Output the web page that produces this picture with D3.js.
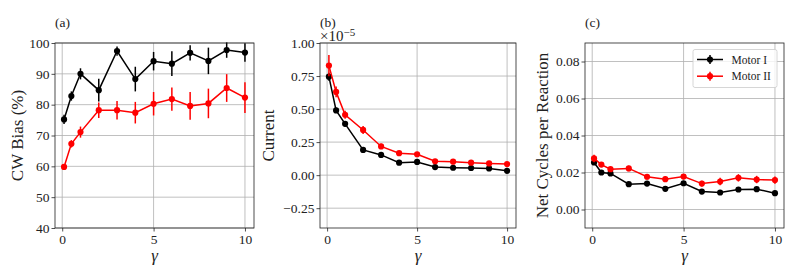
<!DOCTYPE html>
<html>
<head>
<meta charset="utf-8">
<script src="https://cdn.jsdelivr.net/npm/d3@7"></script>
<style>
  body { margin: 0; background: #fff; }
</style>
</head>
<body>
<div id="chart"></div>
<script>
// gamma values shared by every panel
var gammas = [0.1, 0.5, 1, 2, 3, 4, 5, 6, 7, 8, 9, 10];

// (a) CW bias, %
var biasMotor1 = [75.2, 82.8, 90.0, 84.7, 97.4, 88.3, 94.1, 93.3, 96.8, 94.2, 97.7, 96.9];
var biasErr1   = [1.5, 1.5, 1.8, 3.7, 1.5, 4.0, 3.0, 4.0, 2.5, 4.3, 2.5, 3.0];
var biasMotor2 = [59.8, 67.3, 71.1, 78.2, 78.2, 77.4, 80.3, 81.8, 79.6, 80.4, 85.4, 82.3];
var biasErr2   = [0.7, 1.2, 1.8, 2.5, 3.0, 3.5, 3.8, 3.8, 4.5, 4.8, 4.5, 5.0];

// (b) current, units of 1e-5
var currMotor1 = [0.745, 0.49, 0.388, 0.191, 0.153, 0.094, 0.10, 0.061, 0.056, 0.054, 0.051, 0.033];
var currErr1   = [0.03, 0.02, 0.02, 0.02, 0.015, 0.012, 0.012, 0.01, 0.01, 0.01, 0.01, 0.01];
var currMotor2 = [0.829, 0.63, 0.457, 0.342, 0.217, 0.166, 0.158, 0.105, 0.102, 0.094, 0.089, 0.084];
var currErr2   = [0.08, 0.04, 0.03, 0.03, 0.02, 0.015, 0.015, 0.012, 0.012, 0.012, 0.01, 0.01];

// (c) net cycles per reaction
var cycMotor1 = [0.0254, 0.0200, 0.0195, 0.0137, 0.0140, 0.0112, 0.0142, 0.0097, 0.0092, 0.0108, 0.0110, 0.0088];
var cycErr1   = [0.001, 0.001, 0.001, 0.001, 0.001, 0.001, 0.001, 0.001, 0.001, 0.001, 0.0012, 0.0012];
var cycMotor2 = [0.0276, 0.0243, 0.0218, 0.0222, 0.0177, 0.0164, 0.0178, 0.0140, 0.0151, 0.0171, 0.0162, 0.0159];
var cycErr2   = [0.002, 0.0012, 0.0012, 0.0015, 0.0015, 0.0015, 0.0012, 0.0015, 0.002, 0.002, 0.002, 0.002];

var xTicks = [0, 5, 10];
var seriesNames = ["Motor I", "Motor II"];
var seriesColors = ["#000000", "#ff0000"];

const FONT = "'Liberation Serif', 'Times New Roman', serif";

var svg = d3.select("#chart").append("svg")
  .attr("width", 797)
  .attr("height", 280)
  .style("font-family", FONT);

var panels = [
  { tag: "(a)", left: 55, right: 254, ylabel: "CW Bias (%)", ylx: 23, domain: [40, 100],
    ticks: [40, 50, 60, 70, 80, 90, 100], fmt: d3.format("d"),
    data: [[biasMotor1, biasErr1], [biasMotor2, biasErr2]] },
  { tag: "(b)", left: 320, right: 516, ylabel: "Current", ylx: 274, domain: [-0.4, 1.0],
    ticks: [-0.25, 0, 0.25, 0.5, 0.75, 1.0], fmt: function(d) { return d3.format(".2f")(d).replace("-", "\u2212"); },
    data: [[currMotor1, currErr1], [currMotor2, currErr2]], offset: true },
  { tag: "(c)", left: 585, right: 784, ylabel: "Net Cycles per Reaction", ylx: 548, domain: [-0.01, 0.09],
    ticks: [0, 0.02, 0.04, 0.06, 0.08], fmt: d3.format(".2f"),
    data: [[cycMotor1, cycErr1], [cycMotor2, cycErr2]], legend: true }
];

var plotTop = 43, plotBottom = 228;

panels.forEach(function(p) {
  var x = d3.scaleLinear().domain([-0.395, 10.495]).range([p.left, p.right]);
  var y = d3.scaleLinear().domain(p.domain).range([plotBottom, plotTop]);
  var g = svg.append("g");

  // grid
  g.selectAll("line.gx").data(xTicks).enter().append("line")
    .attr("x1", function(d) { return x(d); }).attr("x2", function(d) { return x(d); })
    .attr("y1", plotTop).attr("y2", plotBottom)
    .attr("stroke", "#b0b0b0").attr("stroke-width", 0.8);
  g.selectAll("line.gy").data(p.ticks).enter().append("line")
    .attr("y1", function(d) { return y(d); }).attr("y2", function(d) { return y(d); })
    .attr("x1", p.left).attr("x2", p.right)
    .attr("stroke", "#b0b0b0").attr("stroke-width", 0.8);

  // axes
  var xAxis = d3.axisBottom(x).tickValues(xTicks).tickSize(3.5).tickPadding(3).tickFormat(d3.format("d"));
  var yAxis = d3.axisLeft(y).tickValues(p.ticks).tickSize(3.5).tickPadding(2).tickFormat(p.fmt);
  var gx = g.append("g").attr("transform", "translate(0," + plotBottom + ")").call(xAxis);
  var gy = g.append("g").attr("transform", "translate(" + p.left + ",0)").call(yAxis);
  [gx, gy].forEach(function(a) {
    a.attr("font-family", FONT).attr("font-size", null);
    a.select(".domain").remove();
    a.selectAll("text").style("font-size", "13.5px").style("font-family", FONT).attr("fill", "#222");
    a.selectAll("line").attr("stroke", "#222").attr("stroke-width", 0.8);
  });

  // series
  p.data.forEach(function(s, si) {
    var vals = s[0], errs = s[1], col = seriesColors[si];
    var line = d3.line().x(function(d, i) { return x(gammas[i]); }).y(function(d) { return y(d); });
    g.append("path").datum(vals).attr("d", line)
      .attr("fill", "none").attr("stroke", col).attr("stroke-width", 1.5);
    g.selectAll("line.err" + si).data(vals).enter().append("line")
      .attr("x1", function(d, i) { return x(gammas[i]); })
      .attr("x2", function(d, i) { return x(gammas[i]); })
      .attr("y1", function(d, i) { return y(d - errs[i]); })
      .attr("y2", function(d, i) { return y(d + errs[i]); })
      .attr("stroke", col).attr("stroke-width", 1.5);
    g.selectAll("circle.m" + si).data(vals).enter().append("circle")
      .attr("cx", function(d, i) { return x(gammas[i]); })
      .attr("cy", function(d) { return y(d); })
      .attr("r", 3.1).attr("fill", col);
  });

  // frame
  g.append("rect").attr("x", p.left).attr("y", plotTop)
    .attr("width", p.right - p.left).attr("height", plotBottom - plotTop)
    .attr("fill", "none").attr("stroke", "#222").attr("stroke-width", 0.8);

  // labels
  g.append("text").attr("x", p.left).attr("y", 26.5).style("font-size", "13.5px").attr("fill", "#222").text(p.tag);
  g.append("text").attr("x", (p.left + p.right) / 2).attr("y", 261)
    .attr("text-anchor", "middle").style("font-size", "17px").style("font-style", "italic")
    .attr("fill", "#222").text("\u03b3");

  g.append("text").attr("transform", "translate(" + p.ylx + "," + ((plotTop + plotBottom) / 2) + ") rotate(-90)")
    .attr("text-anchor", "middle").style("font-size", "17px").attr("fill", "#222").text(p.ylabel);

  if (p.offset) {
    var off = g.append("text").attr("x", p.left).attr("y", 41).style("font-size", "15px").attr("fill", "#222");
    off.append("tspan").text("\u00d710");
    off.append("tspan").attr("dy", -5).style("font-size", "11px").text("\u22125");
  }

  if (p.legend) {
    var lg = g.append("g");
    lg.append("rect").attr("x", 693).attr("y", 49.5).attr("width", 84).attr("height", 38)
      .attr("rx", 2).attr("fill", "#fff").attr("fill-opacity", 0.8)
      .attr("stroke", "#ccc").attr("stroke-width", 0.8);
    seriesNames.forEach(function(n, i) {
      var yy = 59.5 + i * 16.7;
      lg.append("line").attr("x1", 697).attr("x2", 723).attr("y1", yy).attr("y2", yy)
        .attr("stroke", seriesColors[i]).attr("stroke-width", 1.5);
      lg.append("line").attr("x1", 710).attr("x2", 710).attr("y1", yy - 4.5).attr("y2", yy + 4.5)
        .attr("stroke", seriesColors[i]).attr("stroke-width", 1.5);
      lg.append("circle").attr("cx", 710).attr("cy", yy).attr("r", 3.1).attr("fill", seriesColors[i]);
      lg.append("text").attr("x", 731.5).attr("y", yy + 4).style("font-size", "11.5px").attr("fill", "#222").text(n);
    });
  }
});
</script>
</body>
</html>
